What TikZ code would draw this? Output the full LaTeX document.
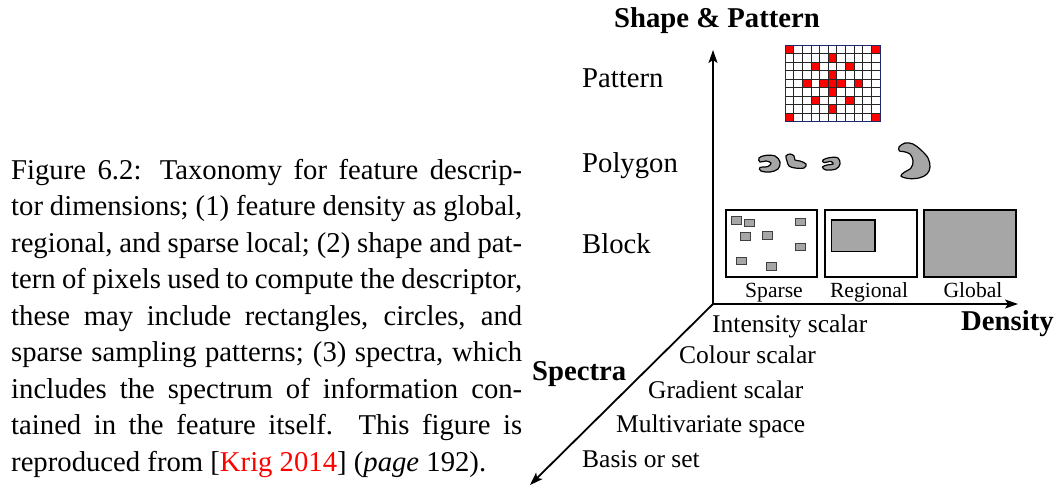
\documentclass[tikz,border=0pt]{standalone}
\usepackage{fontspec}
\setmainfont{Liberation Serif}
\usetikzlibrary{arrows.meta}
\definecolor{blobgray}{RGB}{166,166,166}
\definecolor{gridnavy}{RGB}{30,40,110}
\newcommand\capfnt{\fontsize{28.7}{36.4}\selectfont}
\newcommand\lblfnt{\fontsize{28.7}{34}\selectfont}
\newcommand\spcfnt{\fontsize{25.5}{30}\selectfont}
\newcommand\boxfnt{\fontsize{21.6}{26}\selectfont}
\begin{document}
\begin{tikzpicture}[x=1pt,y=-1pt,
  txt/.style={inner sep=0pt, anchor=base west},
  ctxt/.style={inner sep=0pt, anchor=base},
  axis/.style={line width=1.8pt, -{Stealth[length=13pt,width=9pt,inset=3pt]}},
  framebox/.style={draw=black, line width=1.6pt},
  graybox/.style={fill=blobgray, draw=black, line width=1.2pt},
  smallsq/.style={fill=blobgray, draw=black!75, line width=0.8pt},
  blob/.style={fill=blobgray, draw=black, line width=1.2pt},
  gridline/.style={draw=black!85, line width=0.8pt}]
\useasboundingbox (0,0) rectangle (1056,489);

% ---------- caption ----------
\node[txt] (cap1) at (11,179) {\capfnt\makebox[511pt][s]{Figure 6.2: Taxonomy for feature descrip-}};
\node[txt] (cap2) at (11,215.5) {\capfnt\makebox[511pt][s]{tor dimensions; (1) feature density as global,}};
\node[txt] (cap3) at (11,252) {\capfnt\makebox[511pt][s]{regional, and sparse local; (2) shape and pat-}};
\node[txt] (cap4) at (11,288.5) {\capfnt\makebox[511pt][s]{tern of pixels used to compute the descriptor,}};
\node[txt] (cap5) at (11,325) {\capfnt\makebox[511pt][s]{these may include rectangles, circles, and}};
\node[txt] (cap6) at (11,361.5) {\capfnt\makebox[511pt][s]{sparse sampling patterns; (3) spectra, which}};
\node[txt] (cap7) at (11,398) {\capfnt\makebox[511pt][s]{includes the spectrum of information con-}};
\node[txt] (cap8) at (11,434.5) {\capfnt\makebox[511pt][s]{tained in the feature itself. This figure is}};
\node[txt] (cap9) at (11,471) {\capfnt reproduced from [\textcolor{red}{Krig 2014}] (\textit{page} 192).};

% ---------- axes ----------
\coordinate (O) at (713,304);
\coordinate (ytip) at (713,50);
\coordinate (xtip) at (1018,304);
\coordinate (ztip) at (530,485);
\draw[axis] (O) -- (ytip);
\draw[axis] (O) -- (xtip);
\draw[axis] (O) -- (ztip);

\node[ctxt] (shapelbl) at (717,28) {\lblfnt\bfseries Shape \& Pattern};
\node[txt] (denslbl) at (961,330) {\lblfnt\bfseries Density};
\node[txt] (speclbl) at (532,380) {\lblfnt\bfseries Spectra};

% ---------- row labels ----------
\node[txt] (patlbl) at (582,88) {\lblfnt Pattern};
\node[txt] (polylbl) at (582,172) {\lblfnt Polygon};
\node[txt] (blocklbl) at (582,253) {\lblfnt Block};

% ---------- spectra labels ----------
\node[txt] (s1) at (712,332) {\spcfnt Intensity scalar};
\node[txt] (s2) at (679,363) {\spcfnt Colour scalar};
\node[txt] (s3) at (648,398) {\spcfnt Gradient scalar};
\node[txt] (s4) at (616,432) {\spcfnt Multivariate space};
\node[txt] (s5) at (582,467) {\spcfnt Basis or set};

% ---------- pattern grid ----------
\foreach \c/\r in {1/1,11/1,6/2,4/3,8/3,6/4,3/5,5/5,6/5,7/5,9/5,6/6,4/7,8/7,6/8,1/9,11/9}
  \fill[red] ({785+(\c-1)*8.636},{45+(\r-1)*8.52}) rectangle ++(8.636,8.52);
\foreach \i in {1,...,10}
  \draw[gridline] ({785+\i*8.636},45) -- ++(0,76.68);
\foreach \j in {1,...,8}
  \draw[gridline] (785,{45+\j*8.52}) -- ++(95,0);
\draw[draw=gridnavy, line width=0.9pt] (785,45) rectangle (880,121.68);

% ---------- polygons ----------
\draw[blob] plot[smooth cycle, tension=0.6] coordinates {(759,158) (765,155.5) (775,156) (780,162) (778,169) (770,172) (761,171) (760,167.5) (768,166.5) (771,163) (766,161) (760,162)};
\draw[blob] plot[smooth cycle, tension=0.6] coordinates {(786,156) (790,154) (794,156) (795,160) (800,161) (806,164) (804,168) (795,168) (789,166) (787,161)};
\draw[blob] plot[smooth cycle, tension=0.6] coordinates {(823,160) (830,157.5) (838,158) (840,164) (836,169) (826,170) (822.5,167) (827,165) (833,164) (831,161.5) (824,162.5)};
\draw[blob] plot[smooth cycle, tension=0.6] coordinates {(899,147) (905,143) (913,144) (921,150) (928,158) (930,167) (927,174) (919,178) (908,178.5) (901,176) (904,172.5) (911,168) (913,161) (910,154) (903,151.5) (899.5,151)};

% ---------- block row ----------
\draw[framebox] (726,210) rectangle (817,277);
\draw[framebox] (825,210) rectangle (917,277);
\draw[framebox, fill=blobgray] (924,210) rectangle (1016,277);
\draw[graybox] (831.7,220) rectangle (875,251.7);
\foreach \x/\y in {731.7/216.7, 744.3/219.3, 795/218.3, 740/232.7, 762.7/231.7, 795/243.3, 736.7/257.3, 766.7/262.7}
  \draw[smallsq] (\x,\y) rectangle ++(10,7.4);

\node[ctxt] (sparselbl) at (774,297) {\boxfnt Sparse};
\node[ctxt] (regionlbl) at (869,297) {\boxfnt Regional};
\node[ctxt] (globallbl) at (973,297) {\boxfnt Global};
\end{tikzpicture}
\end{document}
